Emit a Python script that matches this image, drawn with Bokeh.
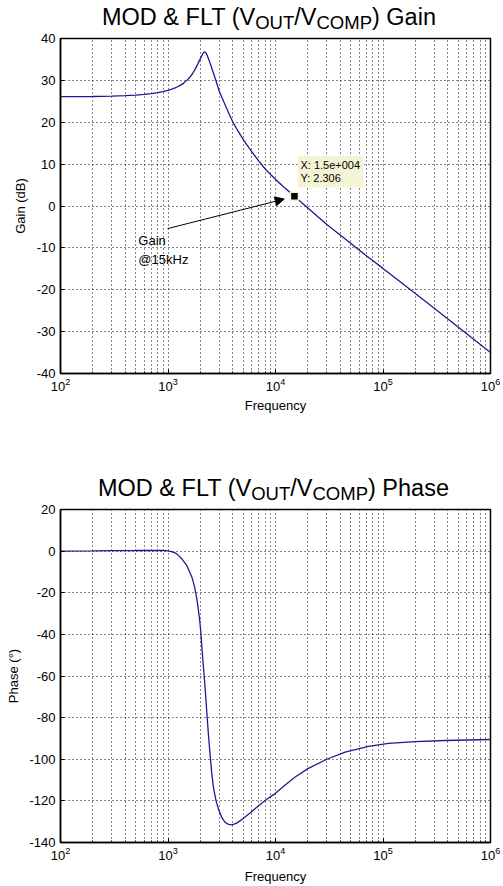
from bokeh.plotting import figure
from bokeh.layouts import column
from bokeh.models import (Range1d, FixedTicker, Label, Arrow, NormalHead,
                          CustomJSTickFormatter, Div)
from bokeh.embed import file_html
from bokeh.resources import INLINE

# ---------------- data ----------------
gain_freq = [100, 200, 300, 400, 500, 600, 700, 800, 900, 1000, 1100, 1200,
             1300, 1400, 1500, 1600, 1700, 1800, 1900, 2000, 2100, 2150, 2200,
             2250, 2300, 2400, 2500, 2600, 2700, 2850, 3000, 3300, 3600, 4000,
             4500, 5000, 6000, 7000, 8000, 9000, 10000, 12000, 15000, 20000,
             30000, 50000, 70000, 100000, 200000, 500000, 1000000]
gain_db = [26.1, 26.15, 26.25, 26.35, 26.5, 26.65, 26.85, 27.05, 27.3, 27.6,
           27.95, 28.35, 28.8, 29.35, 30.0, 30.8, 31.7, 32.8, 34.0, 35.2, 36.3,
           36.7, 36.8, 36.6, 36.1, 34.9, 33.6, 32.3, 31.1, 29.2, 27.4, 24.9,
           22.7, 20.1, 17.8, 15.9, 13.0, 10.7, 8.9, 7.5, 6.4, 4.5, 2.306, -0.5,
           -4.4, -8.9, -11.9, -14.9, -20.9, -28.9, -35.0]

phase_freq = [100, 200, 300, 500, 700, 900, 1000, 1100, 1200, 1345, 1500,
              1666, 1760, 1854, 1960, 2020, 2064, 2120, 2185, 2240, 2298, 2380,
              2468, 2550, 2651, 2800, 2950, 3150, 3400, 3650, 3926, 4300, 4862,
              5800, 6950, 8300, 9930, 12000, 15000, 20000, 30000, 44400, 73300,
              112500, 200000, 380000, 1000000]
phase_deg = [0.0, 0.1, 0.2, 0.3, 0.4, 0.3, 0.1, -0.4, -1.2, -3.7, -7.0, -12.4,
             -16.8, -22.8, -32.0, -39.0, -46.0, -53.5, -61.8, -69.5, -77.7,
             -88.5, -98.4, -106.5, -113.8, -120.0, -124.0, -127.8, -130.3,
             -131.3, -131.5, -130.8, -129.0, -125.8, -122.3, -119.2, -116.5,
             -112.8, -108.8, -104.5, -100.0, -96.6, -93.8, -92.4, -91.5, -91.0,
             -90.5]

tip_freq = [15000]
tip_gain = [2.306]

x_major = [1e2, 1e3, 1e4, 1e5, 1e6]
x_minor = [m * 10 ** k for k in range(2, 6) for m in range(2, 10)]
gain_ticks = [-40, -30, -20, -10, 0, 10, 20, 30, 40]
phase_ticks = [-140, -120, -100, -80, -60, -40, -20, 0, 20]

FONT = "Liberation Sans"
LINE_COLOR = "#1c1c8c"
W = 500


def title_div(height, left, top, word):
    sub = ('<span style="font-size:18.5px;line-height:1;position:relative;'
           'top:4px">%s</span>')
    html = ('<div style="padding-left:%dpx;padding-top:%dpx;'
            'font-family:\'Liberation Sans\';font-size:23.5px;line-height:1;'
            'white-space:nowrap;color:black;margin:0">'
            'MOD &amp; FLT (V%s/V%s) %s</div>'
            % (left, top, sub % "OUT", sub % "COMP", word))
    return Div(text=html, width=W, height=height, margin=0)


def make_fig(height, top, bottom, yr, yticks, ylabel, xl_standoff, yl_standoff):
    p = figure(width=W, height=height, x_axis_type="log",
               x_range=Range1d(1e2, 1e6), y_range=Range1d(*yr),
               output_backend="svg", toolbar_location=None,
               min_border_left=60, min_border_right=W - 490,
               min_border_top=top, min_border_bottom=bottom)
    p.outline_line_color = "black"
    p.outline_line_width = 1.5
    p.background_fill_color = "white"
    p.border_fill_alpha = 0

    xt = FixedTicker(ticks=x_major, minor_ticks=x_minor)
    yt = FixedTicker(ticks=yticks)
    p.xaxis.ticker = xt
    p.yaxis.ticker = yt
    p.yaxis.formatter = CustomJSTickFormatter(code="return tick.toFixed(0);")
    for ax in (p.xaxis[0], p.yaxis[0]):
        ax.axis_line_color = "black"
        ax.axis_line_width = 1.5
        ax.major_tick_in = 4
        ax.major_tick_out = 0
        ax.minor_tick_in = 2
        ax.minor_tick_out = 0
        ax.major_tick_line_color = "black"
        ax.minor_tick_line_color = "black"
        ax.major_label_text_font = FONT
        ax.major_label_text_font_size = "13px"
        ax.major_label_text_color = "black"
        ax.axis_label_text_font = FONT
        ax.axis_label_text_font_size = "13px"
        ax.axis_label_text_font_style = "normal"
        ax.axis_label_text_color = "black"
        ax.major_label_standoff = 5
    p.yaxis[0].minor_tick_line_color = None
    p.xaxis[0].major_label_standoff = 4
    p.xaxis[0].axis_label = "Frequency"
    p.xaxis[0].axis_label_standoff = xl_standoff
    p.yaxis[0].axis_label = ylabel
    p.yaxis[0].axis_label_standoff = yl_standoff

    for g in (p.xgrid[0], p.ygrid[0]):
        g.grid_line_color = "black"
        g.grid_line_dash = "1 3"
        g.grid_line_alpha = 0.95
        g.grid_line_width = 1
    p.xgrid[0].minor_grid_line_color = "black"
    p.xgrid[0].minor_grid_line_dash = "1 3"
    p.xgrid[0].minor_grid_line_alpha = 0.95
    return p


# ---------------- gain plot ----------------
t1 = title_div(30, 102, 6, "Gain")
p1 = make_fig(408, 8, 65, (-40, 40), gain_ticks, "Gain (dB)", 4, 6)
p1.line(gain_freq, gain_db, line_color=LINE_COLOR, line_width=1.3)

p1.add_layout(Arrow(end=NormalHead(size=9, fill_color="black",
                                   line_color="black", line_width=1),
                    x_start=990, y_start=-5.4, x_end=12050, y_end=1.65,
                    line_color="black", line_width=1))
p1.add_layout(Label(x=530, y=-6.5, text="Gain\n@15kHz", text_font=FONT,
                    text_font_size="13px", text_color="black",
                    text_line_height=1.23, text_align="left",
                    text_baseline="top"))
p1.add_layout(Label(x=tip_freq[0], y=tip_gain[0], x_offset=3, y_offset=9,
                    text="X: 1.5e+004\nY: %.3f" % tip_gain[0], text_font=FONT,
                    text_font_size="11px", text_color="black",
                    text_line_height=1.1, padding=3,
                    background_fill_color="#F4F4D4",
                    text_align="left", text_baseline="bottom"))
p1.scatter(tip_freq, tip_gain, marker="square", size=8, fill_color="black",
           line_color="#F4F4D4", line_width=1.5)

# ---------------- phase plot ----------------
t2 = title_div(63, 98, 39, "Phase")
p2 = make_fig(385, 8, 41, (-140, 20), phase_ticks, "Phase (°)", 6, 5)
p2.line(phase_freq, phase_deg, line_color=LINE_COLOR, line_width=1.3)

layout = column(t1, p1, t2, p2, spacing=0)
open("out.html", "w").write(file_html(layout, INLINE))
